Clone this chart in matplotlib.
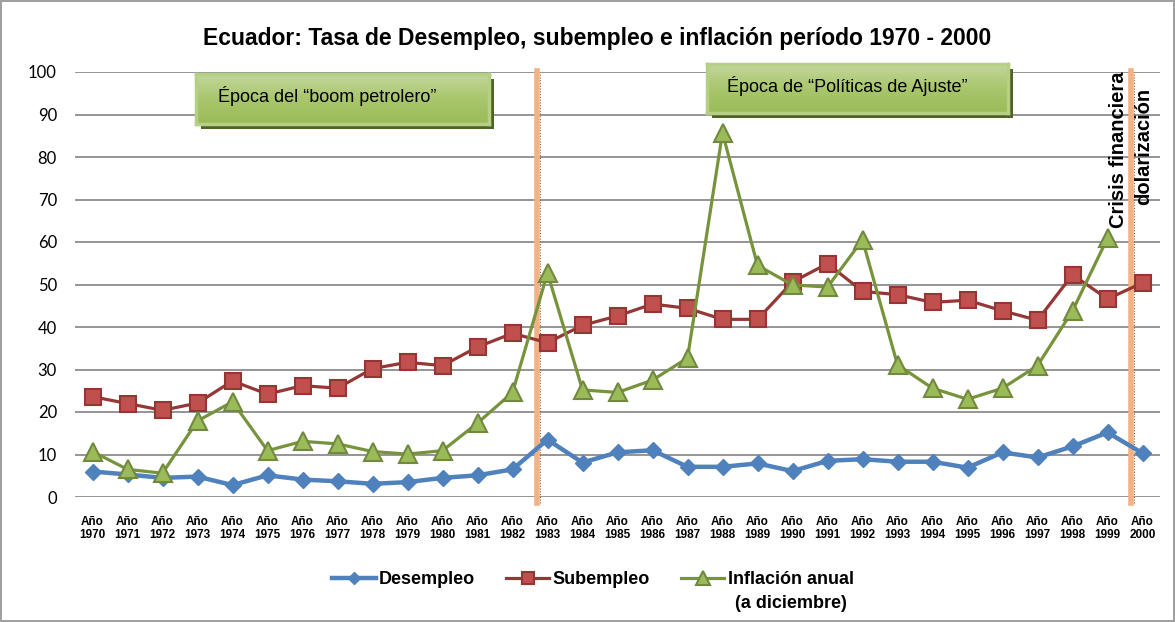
import matplotlib
matplotlib.use("Agg")
import matplotlib.pyplot as plt
import numpy as np

plt.rcParams['font.family'] = ['Liberation Sans', 'DejaVu Sans']

years = list(range(1970, 2001))
tick_labels = ["Año\n%d" % y for y in years]

desempleo = [6.0, 5.3, 4.5, 4.8, 2.8, 5.1, 4.1, 3.7, 3.1, 3.5, 4.5, 5.1, 6.5,
             13.5, 8.1, 10.5, 11.0, 7.1, 7.1, 7.9, 6.1, 8.5, 8.9, 8.3, 8.3,
             6.9, 10.5, 9.3, 11.9, 15.2, 10.3]
subempleo = [23.6, 22.0, 20.4, 22.1, 27.3, 24.2, 26.2, 25.6, 30.2, 31.7, 30.9,
             35.3, 38.5, 36.3, 40.4, 42.6, 45.4, 44.4, 41.8, 41.8, 50.6, 54.9,
             48.4, 47.6, 45.8, 46.3, 43.8, 41.6, 52.3, 46.6, 50.4]
inflacion = [10.7, 6.5, 5.6, 17.9, 22.4, 10.9, 13.1, 12.5, 10.7, 10.1, 10.9,
             17.4, 24.6, 52.7, 25.2, 24.6, 27.5, 32.7, 85.7, 54.5, 49.9, 49.4,
             60.5, 31.1, 25.6, 23.0, 25.6, 30.9, 43.8, 60.9]

title = "Ecuador: Tasa de Desempleo, subempleo e inflación período 1970 - 2000"
epoca1 = "Época del \u201cboom petrolero\u201d"
epoca2 = "Época de \u201cPolíticas de Ajuste\u201d"
narrow = ['Liberation Sans Narrow', 'Liberation Sans', 'DejaVu Sans']

W, H = 1175, 622
fig = plt.figure(figsize=(11.75, 6.22), dpi=100)
fig.patch.set_edgecolor('#a0a0a0')
fig.patch.set_linewidth(1.5)

ax = fig.add_axes([75 / W, 1 - 497 / H, 1085 / W, 425 / H])
ax.set_zorder(2)
x = np.arange(len(years))

ax.plot(x, desempleo, color='#4F81BD', lw=3.2, marker='D', ms=8,
        mfc='#4F81BD', mec='#4F81BD', zorder=5, label='Desempleo')
ax.plot(x, subempleo, color='#953735', lw=2.3, marker='s', ms=12,
        mfc='#C0504D', mec='#943634', mew=1.5, zorder=5, label='Subempleo')
ax.plot(x[:len(inflacion)], inflacion, color='#77933C', lw=2.3, marker='^', ms=13,
        mfc='#9BBB59', mec='#71893F', mew=1.5, zorder=5,
        label='Inflación anual')

ax.set_xlim(-0.5, len(years) - 0.5)
ax.set_ylim(0, 100)
ax.set_yticks(range(0, 101, 10))
ax.grid(axis='y', color='#8c8c8c', lw=1.3)
ax.set_axisbelow(True)
ax.patch.set_alpha(0)
for s in ax.spines.values():
    s.set_visible(False)
ax.tick_params(axis='both', length=0)
ax.tick_params(axis='y', pad=13)
for lab in ax.get_yticklabels():
    lab.set_family(['Lato', 'DejaVu Sans'])
    lab.set_fontsize(12)
ax.set_xticks(x)
ax.set_xticklabels(tick_labels, fontsize=8.5, fontweight='bold', linespacing=1.1)
ax.tick_params(axis='x', pad=14)

# vertical era separators
for xv in [12.7, 29.67]:
    ax.plot([xv, xv], [-1.5, 100.3], color='#F4B183', lw=4, clip_on=False, zorder=3)
    ax.plot([xv + 0.08, xv + 0.08], [-1.5, 99.5], color='#8B6B4B', lw=0.8,
            ls=(0, (1, 1.5)), clip_on=False, zorder=3)

ax.text(29.3, 81.6, "Crisis financiera", rotation=90, ha='center', va='center',
        fontsize=14.5, fontweight='bold', zorder=6)
ax.text(30.03, 82.6, "dolarización", rotation=90, ha='center', va='center',
        fontsize=14.5, fontweight='bold', zorder=6)

# green era boxes with shadow and gradient
grad = np.linspace(0, 1, 64).reshape(-1, 1)
cmap = matplotlib.colors.LinearSegmentedColormap.from_list(
    'g', ['#9BBB59', '#A9C66C', '#C3D69B'])


def era_box(x0, y0, x1, y1, text, tx):
    sh = fig.add_axes([(x0 + 5) / W, 1 - (y1 + 5) / H, (x1 - x0) / W, (y1 - y0) / H])
    sh.set_facecolor('#4F6228')
    sh.set_xticks([])
    sh.set_yticks([])
    for s in sh.spines.values():
        s.set_visible(False)
    sh.set_zorder(3)
    bx = fig.add_axes([x0 / W, 1 - y1 / H, (x1 - x0) / W, (y1 - y0) / H])
    bx.set_zorder(4)
    bx.imshow(grad, aspect='auto', cmap=cmap, extent=[0, 1, 0, 1], origin='lower')
    bx.set_xticks([])
    bx.set_yticks([])
    for s in bx.spines.values():
        s.set_color('#B5CF85')
        s.set_linewidth(2.5)
    bx.text((tx - x0) / (x1 - x0), 0.55, text, ha='left', va='center',
            fontsize=13, transform=bx.transAxes)


era_box(196, 74, 489, 124, epoca1, 218)
era_box(707, 64, 1008, 113, epoca2, 727)

fig.text(597 / W, 1 - 38 / H, title, ha='center', va='center', fontsize=16.5,
         fontweight='bold')

handles, labels = ax.get_legend_handles_labels()
leg = fig.legend(handles, labels, loc='center', bbox_to_anchor=(593 / W, 1 - 580 / H),
                 ncol=3, frameon=False, prop={'family': narrow, 'weight': 'bold',
                                               'size': 13},
                 handlelength=2.4, handletextpad=0.2, columnspacing=1.7,
                 markerscale=0.75)
fig.text(735 / W, 1 - 603 / H, "(a diciembre)", ha='left', va='center',
         fontsize=13, fontweight='bold', family=narrow)

fig.savefig("out.png", dpi=100)
